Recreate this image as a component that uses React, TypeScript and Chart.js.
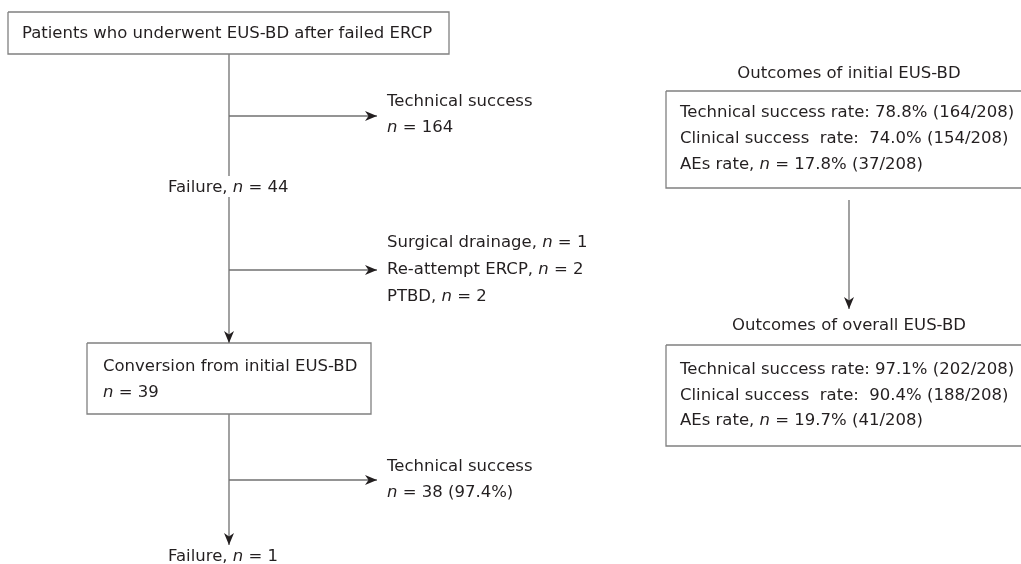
import React, { useEffect, useRef } from "react";
import { Chart, registerables } from "chart.js";

Chart.register(...registerables);

// ---- data (in diagram units: x 0..1021, y 0..564, y downward) ----
const W = 1021;
const H = 564;

// boxes: [left, top, right, bottom]
const boxes: number[][] = [
  [8, 12, 449, 54],
  [87, 343, 371, 414],
  [666, 91, 1030, 188],
  [666, 345, 1030, 446],
];

// connectors: [x1, y1, x2, y2, arrowhead(1/0)]
const connectors: number[][] = [
  [229, 54, 229, 176, 0],
  [229, 197, 229, 343, 1],
  [229, 116, 377, 116, 1],
  [229, 270, 377, 270, 1],
  [229, 414, 229, 545, 1],
  [229, 480, 377, 480, 1],
  [849, 200, 849, 309, 1],
];

// text lines: {n} marks the italic n
const textLines: string[] = [
  "Patients who underwent EUS-BD after failed ERCP",
  "Technical success",
  "{n} = 164",
  "Failure, {n} = 44",
  "Surgical drainage, {n} = 1",
  "Re-attempt ERCP, {n} = 2",
  "PTBD, {n} = 2",
  "Conversion from initial EUS-BD",
  "{n} = 39",
  "Technical success",
  "{n} = 38 (97.4%)",
  "Failure, {n} = 1",
  "Outcomes of initial EUS-BD",
  "Technical success rate: 78.8% (164/208)",
  "Clinical success  rate:  74.0% (154/208)",
  "AEs rate, {n} = 17.8% (37/208)",
  "Outcomes of overall EUS-BD",
  "Technical success rate: 97.1% (202/208)",
  "Clinical success  rate:  90.4% (188/208)",
  "AEs rate, {n} = 19.7% (41/208)",
];
const textX: number[] = [22, 387, 387, 168, 387, 387, 387, 103, 103, 387, 387, 168, 849, 680, 680, 680, 849, 680, 680, 680];
const textY: number[] = [34, 102, 128, 188, 243, 270, 297, 367, 393, 467, 493, 557, 74, 113, 139, 165, 326, 370, 396, 421];
const textAlign: string[] = ["l", "l", "l", "l", "l", "l", "l", "l", "l", "l", "l", "l", "c", "l", "l", "l", "c", "l", "l", "l"];

const FONT_FAMILY = '"DejaVu Sans", sans-serif';
const FONT_SIZE = 16.5;
const TEXT_COLOR = "#231f20";
const LINE_COLOR = "#707070";
const BOX_COLOR = "#808080";
const HEAD_COLOR = "#231f20";

function parseRuns(s: string): { t: string; it: boolean }[] {
  const runs: { t: string; it: boolean }[] = [];
  const parts = s.split(/(\{n\})/);
  for (const p of parts) {
    if (!p) continue;
    if (p === "{n}") runs.push({ t: "n", it: true });
    else runs.push({ t: p, it: false });
  }
  return runs;
}

const flowPlugin = {
  id: "flowPlugin",
  afterDatasetsDraw(chart: any) {
    const ctx = chart.ctx as CanvasRenderingContext2D;
    const xs = chart.scales.x;
    const ys = chart.scales.y;
    // arrowheads
    ctx.save();
    ctx.fillStyle = HEAD_COLOR;
    for (const c of connectors) {
      if (!c[4]) continue;
      const x1 = xs.getPixelForValue(c[0]);
      const y1 = ys.getPixelForValue(c[1]);
      const x2 = xs.getPixelForValue(c[2]);
      const y2 = ys.getPixelForValue(c[3]);
      const ang = Math.atan2(y2 - y1, x2 - x1);
      const L = 12;
      const Wd = 5;
      const notch = 3.5;
      ctx.save();
      ctx.translate(x2, y2);
      ctx.rotate(ang);
      ctx.beginPath();
      ctx.moveTo(0, 0);
      ctx.lineTo(-L, -Wd);
      ctx.lineTo(-L + notch, 0);
      ctx.lineTo(-L, Wd);
      ctx.closePath();
      ctx.fill();
      ctx.restore();
    }
    ctx.restore();

    // texts
    ctx.save();
    ctx.fillStyle = TEXT_COLOR;
    ctx.textBaseline = "middle";
    ctx.textAlign = "left";
    const normal = `${FONT_SIZE}px ${FONT_FAMILY}`;
    const italic = `italic ${FONT_SIZE}px ${FONT_FAMILY}`;
    textLines.forEach((s, i) => {
      const runs = parseRuns(s);
      let total = 0;
      for (const r of runs) {
        ctx.font = r.it ? italic : normal;
        total += ctx.measureText(r.t).width;
      }
      let x = xs.getPixelForValue(textX[i]);
      const y = ys.getPixelForValue(textY[i]);
      if (textAlign[i] === "c") x -= total / 2;
      for (const r of runs) {
        ctx.font = r.it ? italic : normal;
        ctx.fillText(r.t, x, y);
        x += ctx.measureText(r.t).width;
      }
    });
    ctx.restore();
  },
};

export default function App() {
  const ref = useRef<HTMLCanvasElement | null>(null);
  useEffect(() => {
    const prevMargin = document.body.style.margin;
    document.body.style.margin = "0";
    if (!ref.current) return;
    const datasets: any[] = [];
    boxes.forEach((b, i) => {
      datasets.push({
        label: "box" + i,
        data: [
          { x: b[0], y: b[1] },
          { x: b[2], y: b[1] },
          { x: b[2], y: b[3] },
          { x: b[0], y: b[3] },
          { x: b[0], y: b[1] },
        ],
        showLine: true,
        borderColor: BOX_COLOR,
        borderWidth: 1.3,
        pointRadius: 0,
        fill: false,
        tension: 0,
      });
    });
    connectors.forEach((c, i) => {
      datasets.push({
        label: "conn" + i,
        data: [
          { x: c[0], y: c[1] },
          { x: c[2], y: c[3] },
        ],
        showLine: true,
        borderColor: LINE_COLOR,
        borderWidth: 1.3,
        pointRadius: 0,
        fill: false,
      });
    });
    const chart = new Chart(ref.current, {
      type: "scatter",
      data: { datasets },
      options: {
        animation: false,
        responsive: false,
        maintainAspectRatio: false,
        events: [],
        layout: { padding: 0 },
        plugins: { legend: { display: false }, tooltip: { enabled: false } },
        scales: {
          x: { type: "linear", min: 0, max: W, display: false },
          y: { type: "linear", min: 0, max: H, reverse: true, display: false },
        },
      },
      plugins: [flowPlugin],
    } as any);
    return () => {
      chart.destroy();
      document.body.style.margin = prevMargin;
    };
  }, []);
  return (
    <div style={{ width: W, height: H, background: "#fff" }}>
      <canvas ref={ref} width={W} height={H} style={{ display: "block" }} />
    </div>
  );
}
